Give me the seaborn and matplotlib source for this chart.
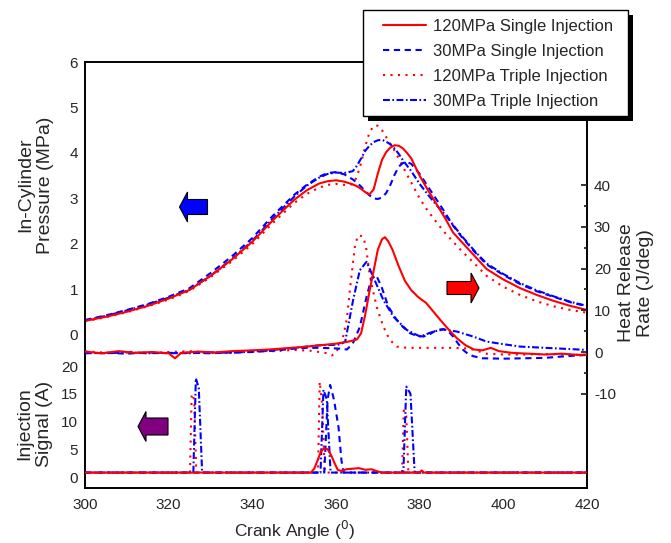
import matplotlib
matplotlib.use("Agg")
import matplotlib.pyplot as plt
import matplotlib.transforms as mtransforms
from matplotlib.patches import Polygon, Rectangle
from matplotlib.lines import Line2D
from matplotlib.ticker import FixedLocator
import seaborn as sns

# ---------------- data ----------------
labels = ["120MPa Single Injection", "30MPa Single Injection",
          "120MPa Triple Injection", "30MPa Triple Injection"]

# in-cylinder pressure, MPa
ca_p = [300, 305, 310, 315, 320, 325, 330, 335, 340, 345, 350, 353, 356, 358, 360,
        362, 364, 365, 366, 367, 368, 369, 370, 371, 372, 373, 374, 375, 376, 377,
        378, 380, 382, 384, 386, 388, 390, 393, 396, 400, 404, 408, 412, 416, 420]
p_120_single = [0.31, 0.40, 0.51, 0.64, 0.80, 0.99, 1.30, 1.65, 2.05, 2.53, 2.97, 3.18, 3.33,
                3.38, 3.40, 3.37, 3.31, 3.27, 3.21, 3.14, 3.09, 3.20, 3.55, 3.85, 4.02, 4.12,
                4.17, 4.16, 4.10, 4.00, 3.88, 3.50, 3.18, 2.88, 2.58, 2.25, 2.05, 1.75, 1.45,
                1.22, 1.03, 0.88, 0.75, 0.64, 0.55]
p_30_single = [0.33, 0.43, 0.55, 0.68, 0.84, 1.03, 1.36, 1.72, 2.13, 2.63, 3.08, 3.30, 3.48,
               3.56, 3.58, 3.53, 3.42, 3.35, 3.26, 3.16, 3.07, 3.00, 2.99, 3.02, 3.12, 3.30,
               3.52, 3.70, 3.78, 3.80, 3.76, 3.54, 3.26, 2.98, 2.70, 2.40, 2.16, 1.84, 1.55,
               1.32, 1.12, 0.96, 0.84, 0.72, 0.63]
p_120_triple = [0.30, 0.39, 0.50, 0.63, 0.78, 0.97, 1.27, 1.61, 2.00, 2.47, 2.90, 3.10, 3.24,
                3.30, 3.32, 3.30, 3.31, 3.48, 3.78, 4.15, 4.45, 4.60, 4.60, 4.50, 4.35, 4.20,
                4.05, 3.88, 3.70, 3.52, 3.35, 3.00, 2.72, 2.48, 2.25, 2.05, 1.85, 1.58, 1.30,
                1.06, 0.88, 0.74, 0.63, 0.55, 0.49]
p_30_triple = [0.32, 0.42, 0.54, 0.67, 0.82, 1.00, 1.30, 1.66, 2.07, 2.57, 3.04, 3.28, 3.46,
               3.54, 3.57, 3.56, 3.60, 3.72, 3.88, 4.05, 4.16, 4.24, 4.28, 4.29, 4.25, 4.19,
               4.10, 3.98, 3.84, 3.72, 3.60, 3.32, 3.08, 2.86, 2.65, 2.42, 2.18, 1.86, 1.57,
               1.34, 1.14, 0.98, 0.85, 0.73, 0.64]

# heat release rate, J/deg
ca_h_120s = [300, 304, 308, 312, 316, 320, 321.5, 323, 327, 331, 335, 340, 344, 348, 352,
             356, 360, 363, 365, 366, 367, 368, 369, 370, 371, 371.7, 372.5, 373.5, 375,
             376.5, 378, 379.5, 380.5, 381.5, 383, 385, 387, 389, 391, 393, 395, 397, 399,
             402, 406, 410, 414, 418, 420]
h_120s = [0.1, -0.3, 0.2, -0.2, 0.0, -0.3, -1.5, -0.2, 0.1, -0.1, 0.2, 0.4, 0.6, 0.9, 1.2,
          1.6, 2.0, 2.5, 3.0, 4.5, 9.0, 14.5, 19.5, 24.5, 27.0, 27.5, 26.5, 24.5, 20.5,
          17.0, 14.8, 13.3, 12.5, 11.8, 10.0, 7.6, 5.3, 3.2, 1.6, 0.6, 0.4, 1.0, 0.2,
          -0.2, -0.4, -0.6, -0.4, -0.7, -0.6]
ca_h_30s = [300, 305, 310, 315, 320, 325, 330, 335, 340, 345, 350, 353, 356, 359, 361,
            362.6, 364, 365.7, 367.3, 368.5, 369.6, 370.9, 372.5, 374.5, 376, 377.7, 379,
            380.9, 382.5, 384.1, 385.7, 387, 388, 389.2, 390.4, 391.5, 392.8, 395, 400,
            405, 410, 415, 420]
h_30s = [-0.3, -0.2, -0.4, -0.1, -0.3, -0.2, -0.3, -0.1, 0.0, 0.3, 0.8, 1.0, 1.0, 0.9, 0.8,
         0.6, 2.0, 6.0, 13.2, 17.7, 18.4, 15.6, 10.9, 7.7, 6.0, 4.5, 4.0, 3.7, 4.3, 5.3,
         5.5, 4.8, 3.7, 2.0, 0.5, -0.4, -1.0, -1.5, -1.6, -1.5, -1.4, -1.0, -0.7]
ca_h_120t = [300, 305, 310, 315, 320, 325, 330, 335, 340, 345, 350, 354, 358, 359, 360,
             361, 361.8, 362.6, 363.4, 364.6, 365.4, 366.5, 367.2, 368, 369, 369.7, 371,
             372, 373, 374.5, 377, 380, 384, 388, 392, 394, 396, 400, 405, 410, 415, 420]
h_120t = [0.2, -0.2, 0.1, -0.3, 0.0, 0.2, -0.2, 0.0, 0.3, 0.2, 0.5, 0.3, -0.3, -0.8, -0.2,
          2.0, 4.0, 8.0, 15.6, 26.0, 28.0, 27.6, 25.0, 18.8, 14.0, 10.9, 7.0, 4.5, 2.8,
          1.3, 1.0, 1.0, 1.0, 1.0, 0.8, 0.2, -0.4, -0.6, -0.6, -0.5, -0.6, -0.7]
ca_h_30t = [300, 305, 310, 315, 320, 325, 330, 335, 340, 345, 350, 353, 356, 359, 361,
            362.2, 364.1, 365.7, 367.3, 368.9, 371.3, 373.7, 376.9, 380.1, 383.3, 385.7,
            388.9, 392.8, 396, 399.2, 404, 412, 420]
h_30t = [-0.2, -0.3, -0.1, -0.3, -0.2, -0.3, -0.1, -0.2, 0.1, 0.5, 1.0, 1.3, 1.6, 1.7, 1.8,
         2.5, 12.5, 19.6, 21.6, 18.0, 12.5, 8.5, 5.3, 3.7, 4.9, 5.4, 4.9, 3.7, 2.5, 2.0,
         1.3, 0.9, 0.5]

# injection signal, A
ca_i_120s = [300, 354, 354.8, 355.6, 356.4, 357.2, 358, 358.8, 359.6, 360.4, 361.2, 362.5,
             364, 365.5, 367, 368.5, 370, 371, 380, 380.5, 381, 420]
i_120s = [0.8, 0.8, 1.5, 3.0, 4.6, 5.2, 5.0, 4.0, 2.6, 1.3, 1.1, 1.4, 1.5, 1.6, 1.3, 1.4,
          1.0, 0.8, 0.8, 1.2, 0.8, 0.8]
ca_i_30s = [300, 357.2, 358, 358.6, 359.5, 360.6, 361.3, 361.8, 420]
i_30s = [0.8, 0.8, 14.0, 16.6, 14.0, 9.0, 3.0, 0.8, 0.8]
ca_i_120t = [300, 325.1, 325.5, 326.1, 326.6, 355.7, 356.1, 356.7, 357.3, 375.8, 376.2,
             376.8, 377.3, 420]
i_120t = [0.8, 0.8, 15.0, 14.0, 0.8, 0.8, 17.2, 13.0, 0.8, 0.8, 12.0, 11.0, 0.8, 0.8]
ca_i_30t = [300, 325.9, 326.5, 327.2, 328, 356.3, 357, 357.8, 358.7, 376.1, 376.8, 377.8,
            378.8, 420]
i_30t = [0.8, 0.8, 17.8, 16.0, 0.8, 0.8, 15.7, 14.0, 0.8, 0.8, 16.3, 15.0, 0.8, 0.8]

# ---------------- style ----------------
sns.set_style("white")
plt.rcParams["font.family"] = ["Liberation Sans", "DejaVu Sans"]
plt.rcParams["axes.unicode_minus"] = False

W, H = 671, 543
fig = plt.figure(figsize=(W / 100, H / 100), dpi=100)
px = mtransforms.Affine2D().scale(1 / W, -1 / H).translate(0, 1) + fig.transFigure

rect = [85 / W, 1 - 488 / H, 502 / W, 426 / H]
ax_p = fig.add_axes(rect)
ax_h = fig.add_axes(rect, sharex=ax_p)
ax_i = fig.add_axes(rect, sharex=ax_p)

RED, BLUE = "#FF0000", "#0000FF"
styles = [
    dict(color=RED, linestyle="-"),
    dict(color=BLUE, linestyle=(0, (3, 2.2))),
    dict(color=RED, linestyle=(0, (1, 2.6))),
    dict(color=BLUE, linestyle=(0, (3.3, 1.2, 0.8, 1.2))),
]
lw = 1.5

pressure = [p_120_single, p_30_single, p_120_triple, p_30_triple]
hrr = [(ca_h_120s, h_120s), (ca_h_30s, h_30s), (ca_h_120t, h_120t), (ca_h_30t, h_30t)]
inj = [(ca_i_120s, i_120s), (ca_i_30s, i_30s), (ca_i_120t, i_120t), (ca_i_30t, i_30t)]

order = [2, 3, 1, 0]
for k in order:
    sns.lineplot(x=ca_p, y=pressure[k], ax=ax_p, lw=lw, estimator=None, **styles[k])
    sns.lineplot(x=hrr[k][0], y=hrr[k][1], ax=ax_h, lw=lw, estimator=None, **styles[k])
    sns.lineplot(x=inj[k][0], y=inj[k][1], ax=ax_i, lw=lw, estimator=None, **styles[k])

# ---------------- axes ----------------
ax_p.set_xlim(300, 420)
ax_p.set_ylim(-3.363, 6)
ax_h.set_ylim(-32.57, 69.46)
ax_i.set_ylim(-1.98, 74.8)

for ax in (ax_p, ax_h, ax_i):
    ax.set_xlabel("")
    ax.set_ylabel("")

ax_p.xaxis.set_major_locator(FixedLocator(list(range(300, 421, 20))))
ax_p.xaxis.set_minor_locator(FixedLocator(list(range(310, 420, 20))))
ax_p.yaxis.set_major_locator(FixedLocator([0, 1, 2, 3, 4, 5, 6]))
ax_p.yaxis.set_minor_locator(FixedLocator([0.5, 1.5, 2.5, 3.5, 4.5, 5.5]))
ax_p.tick_params(which="both", direction="in", top=False, right=False, width=1.3,
                 labelsize=11, pad=5)
ax_p.tick_params(which="major", length=4.5)
ax_p.tick_params(which="minor", length=2.5)
ax_p.tick_params(axis="x", pad=7)
for s in ax_p.spines.values():
    s.set_linewidth(1.4)
    s.set_color("black")

ax_h.yaxis.tick_right()
ax_h.yaxis.set_major_locator(FixedLocator([-10, 0, 10, 20, 30, 40]))
ax_h.yaxis.set_minor_locator(FixedLocator([-5, 5, 15, 25, 35]))
ax_h.tick_params(axis="y", which="both", direction="in", left=False, right=True,
                 labelleft=False, labelright=True, width=1.3, labelsize=11, pad=5)
ax_h.tick_params(axis="y", which="major", length=4.5)
ax_h.tick_params(axis="y", which="minor", length=2.5)

ax_i.yaxis.set_major_locator(FixedLocator([0, 5, 10, 15, 20]))
ax_i.yaxis.set_minor_locator(FixedLocator([2.5, 7.5, 12.5, 17.5]))
ax_i.tick_params(axis="y", which="both", direction="in", width=1.3, labelsize=11, pad=5)
ax_i.tick_params(axis="y", which="major", length=4.5)
ax_i.tick_params(axis="y", which="minor", length=2.5)

for ax in (ax_h, ax_i):
    ax.patch.set_visible(False)
    for s in ax.spines.values():
        s.set_visible(False)
    ax.tick_params(axis="x", which="both", bottom=False, top=False,
                   labelbottom=False, labeltop=False)

# ---------------- labels ----------------
fig.text(36 / W, 1 - 185 / H, "In-Cylinder\nPressure (MPa)", rotation=90,
         ha="center", va="center", multialignment="center", fontsize=14)
fig.text(35 / W, 1 - 424 / H, "Injection\nSignal (A)", rotation=90,
         ha="center", va="center", multialignment="center", fontsize=14)
fig.text(636 / W, 1 - 283 / H, "Heat Release\nRate (J/deg)", rotation=90,
         ha="center", va="center", multialignment="center", fontsize=14)
fig.text(295 / W, 1 - 530 / H, "Crank Angle ($^0$)", ha="center", va="center",
         fontsize=12.5)


# ---------------- arrows ----------------
def block_arrow(tip_x, tip_y, length, tail_w, head_w, head_len, sign, color):
    # sign = -1 points left, +1 points right; pixel coordinates from the top-left
    base = tip_x - sign * head_len
    end = tip_x - sign * length
    pts = [(tip_x, tip_y), (base, tip_y - head_w / 2), (base, tip_y - tail_w / 2),
           (end, tip_y - tail_w / 2), (end, tip_y + tail_w / 2), (base, tip_y + tail_w / 2),
           (base, tip_y + head_w / 2)]
    fig.patches.append(Polygon(pts, closed=True, transform=px, facecolor=color,
                               edgecolor="black", lw=0.8, zorder=4))


block_arrow(179.5, 207, 28, 15, 30, 8, -1, "#0000FF")
block_arrow(479, 288, 32, 13, 30, 8, 1, "#FF0000")
block_arrow(138, 426.5, 30, 17, 30, 8, -1, "#800080")

# ---------------- legend ----------------
fig.patches.append(Rectangle((368, 15), 265, 106, transform=px, facecolor="black",
                             edgecolor="none", zorder=2))
fig.patches.append(Rectangle((363, 10), 265, 106, transform=px, facecolor="white",
                             edgecolor="black", lw=1.0, zorder=3))
handles = [Line2D([], [], lw=lw, **styles[k]) for k in range(4)]
leg = fig.legend(handles, labels, loc="upper left",
                 bbox_to_anchor=(383 / W, 1 - 19 / H), frameon=False, fontsize=12,
                 handlelength=2.6, handletextpad=0.4, labelspacing=0.6, borderpad=0,
                 borderaxespad=0)
leg.set_zorder(5)

fig.savefig("out.png", dpi=100)
